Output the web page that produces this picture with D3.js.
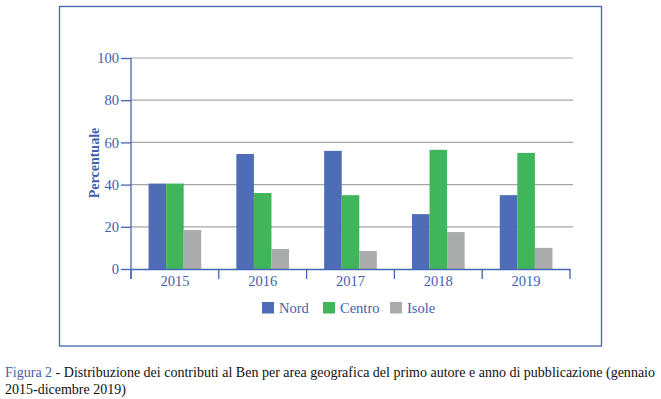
<!DOCTYPE html>
<html>
<head>
<meta charset="utf-8">
<script src="https://cdn.jsdelivr.net/npm/d3@7"></script>
<style>
  body { margin: 0; background: #fff; }
</style>
</head>
<body>
<div class="chart"></div>
<script>
const years = ["2015", "2016", "2017", "2018", "2019"];
const series = ["Nord", "Centro", "Isole"];
const nord = [40.5, 54.5, 56, 26, 35];
const centro = [40.5, 36, 35, 56.5, 55];
const isole = [18.5, 9.5, 8.5, 17.5, 10];
const yTicks = [0, 20, 40, 60, 80, 100];

const colors = { Nord: "#4e6db6", Centro: "#40b65a", Isole: "#a9acab" };
const blue = "#4566b2";
const txtBlue = "#4161ad";
const serif = "Liberation Serif";

const values = { Nord: nord, Centro: centro, Isole: isole };

const svg = d3.select(".chart")
    .append("svg")
    .attr("width", 661)
    .attr("height", 399)
    .attr("font-family", serif);

// frame around the chart
svg.append("rect")
    .attr("x", 59.5).attr("y", 6.5)
    .attr("width", 542).attr("height", 339.5)
    .attr("fill", "none")
    .attr("stroke", blue)
    .attr("stroke-width", 1.3);

const x0 = d3.scaleBand().domain(years).range([131, 570]);
const x1 = d3.scaleBand().domain(series).range([0, x0.bandwidth()]).paddingOuter(1);
const y = d3.scaleLinear().domain([0, 100]).range([269, 58]);

// gridlines
svg.append("g")
    .selectAll("line")
    .data(yTicks.filter(d => d > 0))
    .enter()
    .append("line")
    .attr("x1", 131).attr("x2", 573)
    .attr("y1", d => y(d)).attr("y2", d => y(d))
    .attr("stroke", "#a6a6a6")
    .attr("stroke-width", 1.2);

// bars
const groups = svg.append("g")
    .selectAll("g")
    .data(years)
    .enter()
    .append("g")
    .attr("transform", d => "translate(" + x0(d) + ",0)");

groups.selectAll("rect")
    .data((d, i) => series.map(s => ({ s: s, v: values[s][i] })))
    .enter()
    .append("rect")
    .attr("x", d => x1(d.s))
    .attr("width", x1.bandwidth())
    .attr("y", d => y(d.v))
    .attr("height", d => y(0) - y(d.v))
    .attr("fill", d => colors[d.s]);

// y axis
const yAxis = svg.append("g")
    .attr("transform", "translate(131,0)")
    .call(d3.axisLeft(y).tickValues(yTicks).tickSize(10).tickSizeOuter(0).tickPadding(2))
    .attr("font-family", serif)
    .attr("font-size", 14.5);
yAxis.select(".domain").remove();
yAxis.selectAll(".tick line").attr("stroke", blue).attr("stroke-width", 1.3);
yAxis.selectAll(".tick text").attr("fill", txtBlue);
svg.append("line")
    .attr("x1", 131).attr("x2", 131)
    .attr("y1", y(100)).attr("y2", 279)
    .attr("stroke", blue).attr("stroke-width", 1.3);

// x axis
const xAxis = svg.append("g")
    .attr("transform", "translate(0," + y(0) + ")")
    .call(d3.axisBottom(x0).tickSize(0).tickPadding(7))
    .attr("font-family", serif)
    .attr("font-size", 14.5);
xAxis.select(".domain").attr("stroke", blue).attr("stroke-width", 1.3);
xAxis.selectAll(".tick text").attr("fill", txtBlue);
svg.append("g")
    .selectAll("line")
    .data(years.map(d => x0(d)).concat([x0.range()[1]]))
    .enter()
    .append("line")
    .attr("x1", d => d).attr("x2", d => d)
    .attr("y1", y(0)).attr("y2", 279)
    .attr("stroke", blue).attr("stroke-width", 1.3);

// y title
svg.append("text")
    .attr("transform", "translate(99,163) rotate(-90)")
    .attr("text-anchor", "middle")
    .attr("fill", txtBlue)
    .attr("font-size", 14)
    .attr("font-weight", "bold")
    .text("Percentuale");

// legend
const legendX = [262, 323, 390];
const legend = svg.append("g")
    .selectAll("g")
    .data(series)
    .enter()
    .append("g")
    .attr("transform", (d, i) => "translate(" + legendX[i] + ",302)");
legend.append("rect")
    .attr("width", 12).attr("height", 11.5)
    .attr("fill", d => colors[d]);
legend.append("text")
    .attr("x", 17).attr("y", 11)
    .attr("fill", txtBlue)
    .attr("font-size", 14.5)
    .text(d => d);

// caption
const cap = svg.append("text")
    .attr("x", 5).attr("y", 377)
    .attr("textLength", 650)
    .attr("lengthAdjust", "spacing")
    .attr("font-size", 14)
    .attr("fill", "#111");
cap.append("tspan").attr("fill", "#3f5fae").text("Figura 2");
cap.append("tspan").text(" - Distribuzione dei contributi al Ben per area geografica del primo autore e anno di pubblicazione (gennaio");
svg.append("text")
    .attr("x", 5).attr("y", 394)
    .attr("font-size", 14)
    .attr("fill", "#111")
    .text("2015-dicembre 2019)");
</script>
</body>
</html>
